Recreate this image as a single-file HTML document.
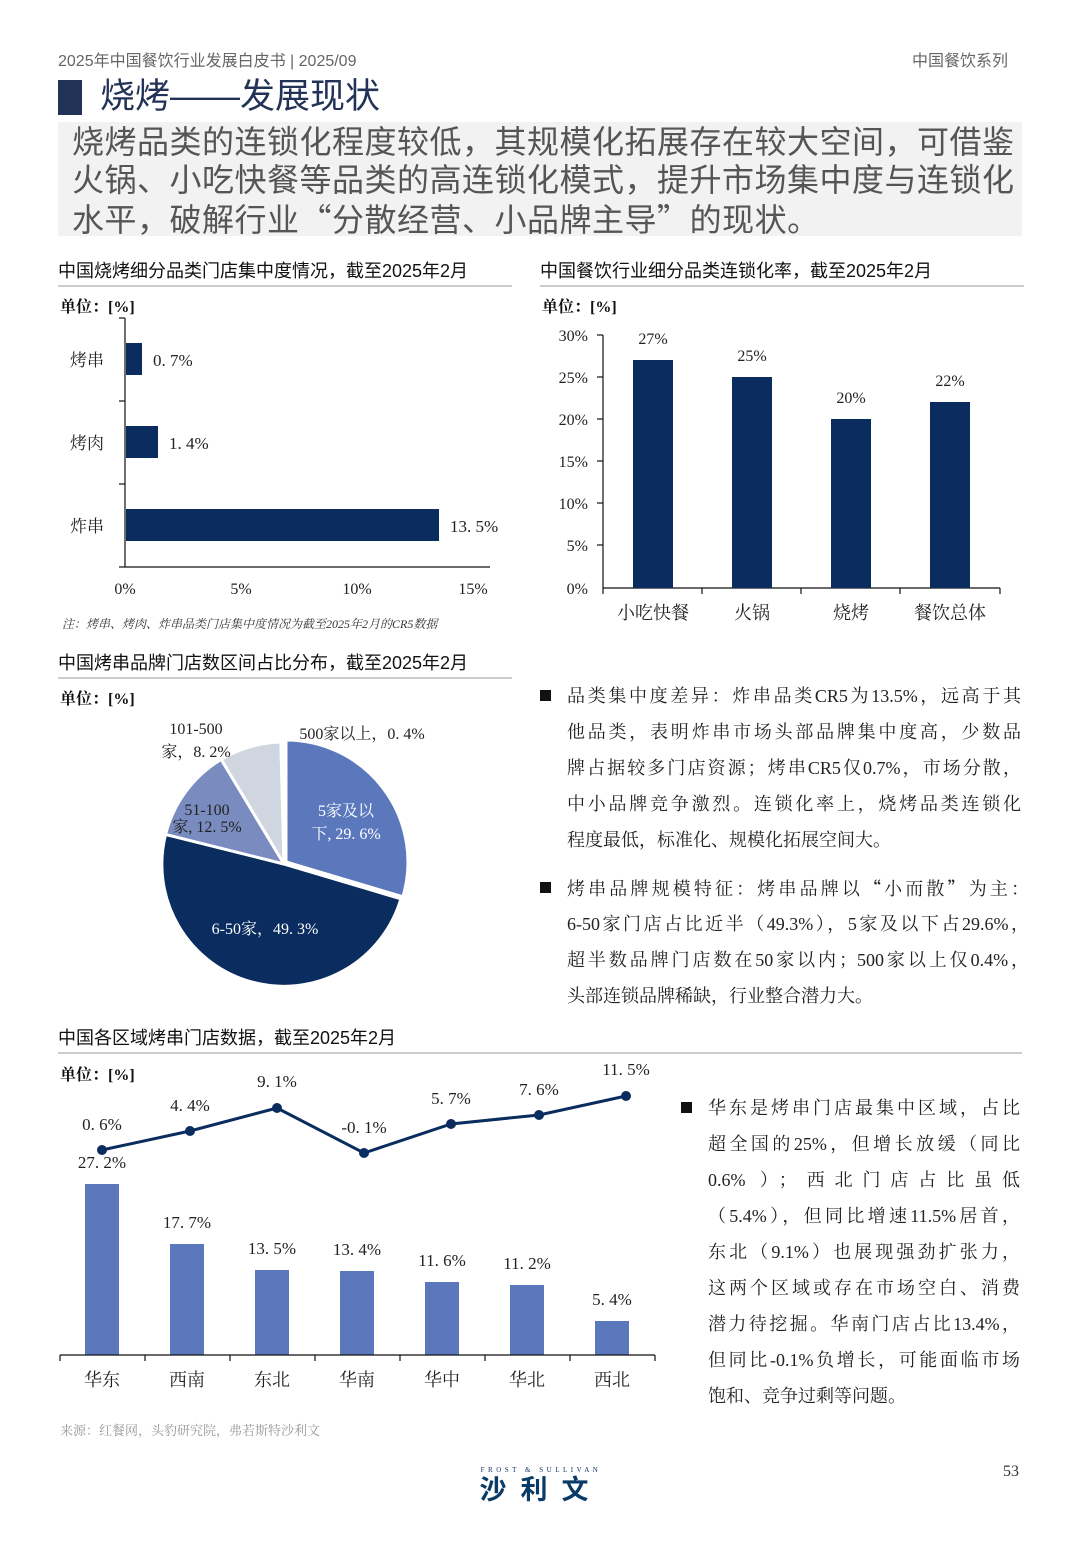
<!DOCTYPE html>
<html><head><meta charset="utf-8">
<style>
body{margin:0;width:1080px;height:1560px;background:#fff;position:relative;overflow:hidden;font-family:"Liberation Serif","Noto Serif CJK SC",serif;}
.a{position:absolute;white-space:nowrap;}
.sans{font-family:"Liberation Sans","Noto Sans CJK SC",sans-serif;}
.p{position:absolute;font-size:18px;color:#222;line-height:36px;}
.p div{text-align:justify;text-align-last:justify;white-space:nowrap;height:36px;}
.p div.l{text-align-last:left;}
.q{font-family:"Noto Sans CJK SC",sans-serif;}
.sq{position:absolute;width:11px;height:11px;background:#111;}
</style></head><body>
<div class="a sans" style="left:58px;top:47px;font-size:16px;color:#666">2025年中国餐饮行业发展白皮书 | 2025/09</div>
<div class="a sans" style="left:912px;top:47px;font-size:16px;color:#666">中国餐饮系列</div>
<div class="a" style="left:58px;top:80px;width:24px;height:35px;background:#233357"></div>
<div class="a sans" style="left:100px;top:76px;font-size:35px;color:#233357;line-height:42px">烧烤——发展现状</div>
<div class="a" style="left:58px;top:122px;width:964px;height:114px;background:#f2f2f2"></div>
<div class="a sans" style="left:72px;top:123px;font-size:32px;letter-spacing:0.5px;color:#555;line-height:38px">烧烤品类的连锁化程度较低，其规模化拓展存在较大空间，可借鉴<br>火锅、小吃快餐等品类的高连锁化模式，提升市场集中度与连锁化<br>水平，破解行业<span class="q">“</span>分散经营、小品牌主导<span class="q">”</span>的现状。</div>

<div class="a sans" style="left:58px;top:257px;font-size:18px;color:#111">中国烧烤细分品类门店集中度情况，截至2025年2月</div>
<div class="a sans" style="left:540px;top:257px;font-size:18px;color:#111">中国餐饮行业细分品类连锁化率，截至2025年2月</div>
<div class="a sans" style="left:58px;top:649px;font-size:18px;color:#111">中国烤串品牌门店数区间占比分布，截至2025年2月</div>
<div class="a sans" style="left:58px;top:1024px;font-size:18px;color:#111">中国各区域烤串门店数据，截至2025年2月</div>

<svg class="a" style="left:0;top:0" width="1080" height="1560" font-family="Liberation Serif,Noto Serif CJK SC,serif">
<g fill="#ccc"><rect x="58" y="285" width="454" height="2"/><rect x="540" y="285" width="484" height="2"/><rect x="58" y="677" width="454" height="2"/><rect x="58" y="1052" width="964" height="2"/></g>
<g font-size="16" font-weight="bold" fill="#111"><text x="60" y="312">单位：[%]</text><text x="542" y="312">单位：[%]</text><text x="60" y="704">单位：[%]</text><text x="60" y="1080">单位：[%]</text></g>
<g stroke="#111" stroke-width="1.2"><line x1="125" y1="318" x2="125" y2="567"/><line x1="125" y1="567" x2="490" y2="567"/>
<line x1="119" y1="318" x2="125" y2="318"/><line x1="119" y1="401" x2="125" y2="401"/><line x1="119" y1="484" x2="125" y2="484"/><line x1="119" y1="567" x2="125" y2="567"/></g>
<g fill="#0a2c5e"><rect x="126" y="343" width="16" height="32"/><rect x="126" y="426" width="32" height="32"/><rect x="126" y="509" width="313" height="32"/></g>
<g font-size="17" fill="#222"><text x="70" y="366">烤串</text><text x="70" y="449">烤肉</text><text x="70" y="532">炸串</text>
<text x="153" y="366">0. 7%</text><text x="169" y="449">1. 4%</text><text x="450" y="532">13. 5%</text></g>
<g font-size="16" fill="#222" text-anchor="middle"><text x="125" y="594">0%</text><text x="241" y="594">5%</text><text x="357" y="594">10%</text><text x="473" y="594">15%</text></g>
<text x="62" y="628" font-size="12" font-style="italic" fill="#333">注：烤串、烤肉、炸串品类门店集中度情况为截至2025年2月的CR5数据</text>
<g stroke="#111" stroke-width="1.2"><line x1="603" y1="335" x2="603" y2="588"/><line x1="603" y1="588" x2="1000" y2="588"/>
<line x1="597" y1="335" x2="603" y2="335"/><line x1="597" y1="377" x2="603" y2="377"/><line x1="597" y1="419" x2="603" y2="419"/><line x1="597" y1="461" x2="603" y2="461"/><line x1="597" y1="503" x2="603" y2="503"/><line x1="597" y1="545" x2="603" y2="545"/>
<line x1="702" y1="588" x2="702" y2="594"/><line x1="801" y1="588" x2="801" y2="594"/><line x1="900" y1="588" x2="900" y2="594"/><line x1="1000" y1="588" x2="1000" y2="594"/><line x1="603" y1="588" x2="603" y2="594"/></g>
<g font-size="16" fill="#222" text-anchor="end"><text x="588" y="341">30%</text><text x="588" y="383">25%</text><text x="588" y="425">20%</text><text x="588" y="467">15%</text><text x="588" y="509">10%</text><text x="588" y="551">5%</text><text x="588" y="594">0%</text></g>
<g fill="#0a2c5e"><rect x="633" y="360" width="40" height="228"/><rect x="732" y="377" width="40" height="211"/><rect x="831" y="419" width="40" height="169"/><rect x="930" y="402" width="40" height="186"/></g>
<g font-size="16" fill="#222" text-anchor="middle"><text x="653" y="344">27%</text><text x="752" y="361">25%</text><text x="851" y="403">20%</text><text x="950" y="386">22%</text></g>
<g font-size="18" fill="#222" text-anchor="middle"><text x="653" y="619">小吃快餐</text><text x="752" y="619">火锅</text><text x="851" y="619">烧烤</text><text x="950" y="619">餐饮总体</text></g>
<g stroke="#fff" stroke-width="3" stroke-linejoin="round">
<path d="M286,862 L286,740 A122,122 0 0 1 402.9,896.8 Z" fill="#5b78bd"/>
<path d="M284,864 L400.9,898.8 A122,122 0 0 1 165.6,834.4 Z" fill="#0a2c5e"/>
<path d="M284,864 L165.6,834.4 A122,122 0 0 1 221.2,759.4 Z" fill="#7a8bbf"/>
<path d="M284,864 L221.2,759.4 A122,122 0 0 1 280.9,742 Z" fill="#cfd6e0"/>
<path d="M284,864 L280.9,742 A122,122 0 0 1 284,742 Z" fill="#e8ecf2"/>
</g>
<g font-size="16" fill="#fff" text-anchor="middle"><text x="346" y="816">5家及以</text><text x="346" y="839">下, 29. 6%</text><text x="265" y="934">6-50家，49. 3%</text></g>
<g font-size="16" fill="#222" text-anchor="middle"><text x="207" y="815">51-100</text><text x="207" y="832">家, 12. 5%</text><text x="196" y="734">101-500</text><text x="196" y="757">家，8. 2%</text><text x="362" y="739">500家以上，0. 4%</text></g>
<g fill="#5b78bd"><rect x="85" y="1184" width="34" height="171"/><rect x="170" y="1244" width="34" height="111"/><rect x="255" y="1270" width="34" height="85"/><rect x="340" y="1271" width="34" height="84"/><rect x="425" y="1282" width="34" height="73"/><rect x="510" y="1285" width="34" height="70"/><rect x="595" y="1321" width="34" height="34"/></g>
<g stroke="#111" stroke-width="1.2"><line x1="60" y1="1355" x2="655" y2="1355"/>
<line x1="60" y1="1355" x2="60" y2="1361"/><line x1="145" y1="1355" x2="145" y2="1361"/><line x1="230" y1="1355" x2="230" y2="1361"/><line x1="315" y1="1355" x2="315" y2="1361"/><line x1="400" y1="1355" x2="400" y2="1361"/><line x1="485" y1="1355" x2="485" y2="1361"/><line x1="570" y1="1355" x2="570" y2="1361"/><line x1="655" y1="1355" x2="655" y2="1361"/></g>
<g font-size="17" fill="#222" text-anchor="middle"><text x="102" y="1168">27. 2%</text><text x="187" y="1228">17. 7%</text><text x="272" y="1254">13. 5%</text><text x="357" y="1255">13. 4%</text><text x="442" y="1266">11. 6%</text><text x="527" y="1269">11. 2%</text><text x="612" y="1305">5. 4%</text>
<text x="102" y="1130">0. 6%</text><text x="190" y="1111">4. 4%</text><text x="277" y="1087">9. 1%</text><text x="364" y="1133">-0. 1%</text><text x="451" y="1104">5. 7%</text><text x="539" y="1095">7. 6%</text><text x="626" y="1075">11. 5%</text></g>
<polyline points="102,1150 190,1131 277,1108 364,1153 451,1124 539,1115 626,1096" fill="none" stroke="#0a2c5e" stroke-width="3"/>
<g fill="#0a2c5e"><circle cx="102" cy="1150" r="5"/><circle cx="190" cy="1131" r="5"/><circle cx="277" cy="1108" r="5"/><circle cx="364" cy="1153" r="5"/><circle cx="451" cy="1124" r="5"/><circle cx="539" cy="1115" r="5"/><circle cx="626" cy="1096" r="5"/></g>
<g font-size="18" fill="#222" text-anchor="middle"><text x="102" y="1386">华东</text><text x="187" y="1386">西南</text><text x="272" y="1386">东北</text><text x="357" y="1386">华南</text><text x="442" y="1386">华中</text><text x="527" y="1386">华北</text><text x="612" y="1386">西北</text></g>
<text x="60" y="1435" font-size="13" fill="#999">来源：红餐网，头豹研究院，弗若斯特沙利文</text>
<text x="541" y="1472" font-size="7" fill="#0a2c5e" text-anchor="middle" letter-spacing="3.5">FROST &amp; SULLIVAN</text>
<text x="541" y="1499" font-size="27" font-weight="bold" fill="#0a3a66" text-anchor="middle" letter-spacing="14" font-family="Liberation Sans,Noto Sans CJK SC,sans-serif">沙利文</text>
<text x="1011" y="1476" font-size="16" fill="#333" text-anchor="middle">53</text>
</svg>

<div class="sq" style="left:540px;top:690px"></div>
<div class="p" style="left:567px;top:678px;width:454px">
<div>品类集中度差异：炸串品类CR5为13.5%，远高于其</div>
<div>他品类，表明炸串市场头部品牌集中度高，少数品</div>
<div>牌占据较多门店资源；烤串CR5仅0.7%，市场分散，</div>
<div>中小品牌竞争激烈。连锁化率上，烧烤品类连锁化</div>
<div class="l">程度最低，标准化、规模化拓展空间大。</div>
</div>
<div class="sq" style="left:540px;top:882px"></div>
<div class="p" style="left:567px;top:870px;width:462px">
<div>烤串品牌规模特征：烤串品牌以<span class="q">“</span>小而散<span class="q">”</span>为主：</div>
<div>6-50家门店占比近半（49.3%），5家及以下占29.6%，</div>
<div>超半数品牌门店数在50家以内；500家以上仅0.4%，</div>
<div class="l">头部连锁品牌稀缺，行业整合潜力大。</div>
</div>
<div class="sq" style="left:681px;top:1102px"></div>
<div class="p" style="left:708px;top:1090px;width:312px">
<div>华东是烤串门店最集中区域，占比</div>
<div>超全国的25%，但增长放缓（同比</div>
<div>0.6% ）；西北门店占比虽低</div>
<div>（5.4%），但同比增速11.5%居首，</div>
<div>东北（9.1%）也展现强劲扩张力，</div>
<div>这两个区域或存在市场空白、消费</div>
<div>潜力待挖掘。华南门店占比13.4%，</div>
<div>但同比-0.1%负增长，可能面临市场</div>
<div class="l">饱和、竞争过剩等问题。</div>
</div>
</body></html>
